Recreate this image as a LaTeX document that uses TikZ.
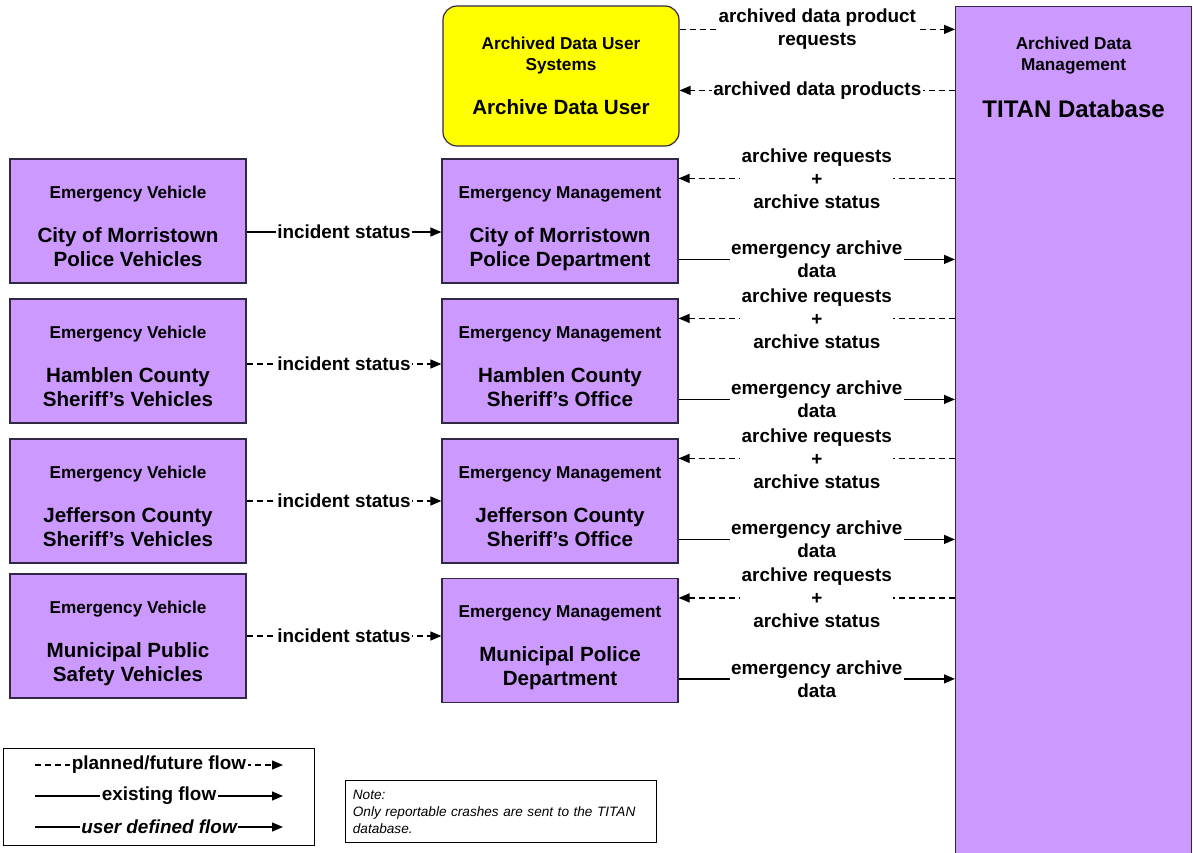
\documentclass[tikz,border=0pt]{standalone}
\usepackage{fontspec}
\setmainfont{Liberation Sans}
\usetikzlibrary{arrows.meta, positioning}
\definecolor{ungumuda}{RGB}{204,153,255}
\definecolor{kuningterang}{RGB}{255,255,0}
\definecolor{garistepi}{RGB}{50,40,70}
\newcommand{\hdrsize}{\fontsize{17.2}{21}\selectfont}
\newcommand{\namesize}{\fontsize{20.6}{24}\selectfont}
\newcommand{\lblsize}{\fontsize{18.9}{23}\selectfont}

\begin{document}
\begin{tikzpicture}[x=1pt, y=-1pt, font=\bfseries\namesize,
        box/.style={rectangle, draw=garistepi, line width=1.2pt, fill=ungumuda,
                    minimum width=236pt, minimum height=124pt, align=center, inner sep=0pt},
        orgbox/.style={box, text height=92pt, text depth=2pt},
        lbl/.style={fill=white, inner sep=1.5pt, align=center, font=\bfseries\lblsize},
        flow/.style={line width=1.3pt, -{Triangle[length=11pt,width=9pt]}},
        plan/.style={flow, dash pattern=on 6pt off 4pt}
    ]
    \useasboundingbox (0,0) rectangle (1193,852);

    % pengguna arsip dan basis data
    \node[box, fill=kuningterang, rounded corners=14pt, minimum height=140pt, font=\bfseries\hdrsize]
        (adu) at (561,76) {Archived Data User\\Systems\\[23pt]{\namesize Archive Data User}};
    \node[box, anchor=north west, minimum height=900pt] (titan) at (955,6) {};
    \node[anchor=north, align=center, font=\bfseries\hdrsize] (titantext) at ([yshift=-27pt]titan.north)
        {Archived Data\\Management\\[25pt]{\fontsize{24}{28}\selectfont TITAN Database}};

    % kendaraan darurat
    \node[orgbox] (ev1) at (128,221)   {{\hdrsize Emergency Vehicle}\\[20pt]City of Morristown\\Police Vehicles};
    \node[orgbox] (ev2) at (128,361)   {{\hdrsize Emergency Vehicle}\\[20pt]Hamblen County\\Sheriff’s Vehicles};
    \node[orgbox] (ev3) at (128,501)   {{\hdrsize Emergency Vehicle}\\[20pt]Jefferson County\\Sheriff’s Vehicles};
    \node[orgbox] (ev4) at (128,636)   {{\hdrsize Emergency Vehicle}\\[20pt]Municipal Public\\Safety Vehicles};

    % manajemen darurat
    \node[orgbox] (em1) at (560,221)   {{\hdrsize Emergency Management}\\[20pt]City of Morristown\\Police Department};
    \node[orgbox] (em2) at (560,361)   {{\hdrsize Emergency Management}\\[20pt]Hamblen County\\Sheriff’s Office};
    \node[orgbox] (em3) at (560,501)   {{\hdrsize Emergency Management}\\[20pt]Jefferson County\\Sheriff’s Office};
    \node[orgbox] (em4) at (560,640.5) {{\hdrsize Emergency Management}\\[20pt]Municipal Police\\Department};

    % alur
    \coordinate (prq) at ([yshift=-24pt]adu.north east);
    \coordinate (prd) at ([yshift=-85pt]adu.north east);
    \draw[plan] (prq) -- node[lbl] {archived data product\\requests} (titan.west |- prq);
    \draw[plan] (titan.west |- prd) -- node[lbl] {archived data products} (prd);

    \draw[flow] ([yshift=-11pt]ev1.east) -- node[lbl] {incident status} ([yshift=-11pt]em1.west);
    \draw[plan] ([yshift=-3pt]ev2.east) -- node[lbl] {incident status} ([yshift=-3pt]em2.west);
    \draw[plan] (ev3.east) -- node[lbl] {incident status} (em3.west);
    \draw[plan] (ev4.east) -- node[lbl] {incident status} (em4.west |- ev4.east);

    \foreach \r in {1,...,4}{
        \coordinate (req\r) at ([yshift=-20pt]em\r.north east);
        \coordinate (dat\r) at ([yshift=-101pt]em\r.north east);
        \draw[plan] (titan.west |- req\r) -- node[lbl] {archive requests\\+\\archive status} (req\r);
        \draw[flow] (dat\r) -- node[lbl] {emergency archive\\data} (titan.west |- dat\r);
    }

    % legenda
    \node[draw, line width=0.8pt, anchor=north west, minimum width=311pt, minimum height=97pt] (legend) at (3,748) {};
    \coordinate (lg1a) at (35,765);  \coordinate (lg1b) at (283,765);
    \coordinate (lg2a) at (35,796);  \coordinate (lg2b) at (283,796);
    \coordinate (lg3a) at (35,827);  \coordinate (lg3b) at (283,827);
    \draw[plan] (lg1a) -- node[lbl] {planned/future flow} (lg1b);
    \draw[flow] (lg2a) -- node[lbl] {existing flow} (lg2b);
    \draw[flow] (lg3a) -- node[lbl, font=\bfseries\itshape\lblsize] {user defined flow} (lg3b);

    \node[draw, line width=0.8pt, anchor=north west, minimum width=311pt, minimum height=62pt,
          text width=296pt, align=left, font=\itshape\fontsize{13.6}{17}\selectfont]
        (note) at (345,780) {Note:\\Only reportable crashes are sent to the TITAN\\database.};
\end{tikzpicture}
\end{document}
